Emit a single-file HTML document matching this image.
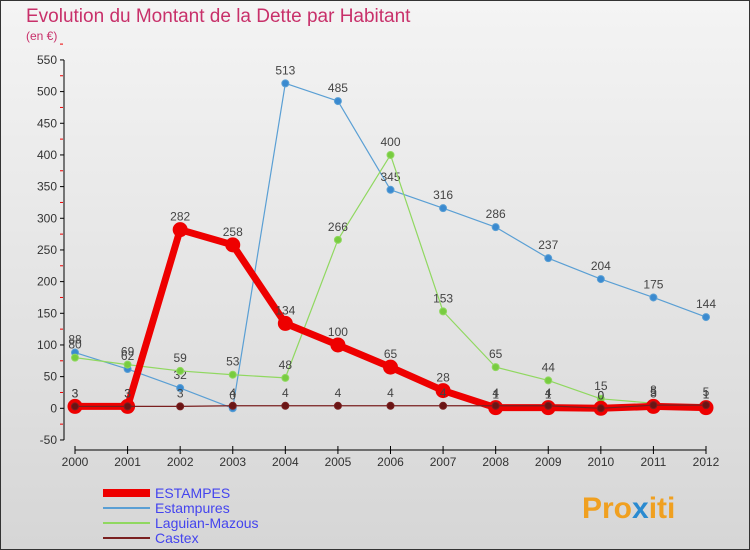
<!DOCTYPE html>
<html><head><meta charset="utf-8"><style>
body{margin:0;width:750px;height:550px;overflow:hidden;font-family:"Liberation Sans",sans-serif}
#wrap{position:absolute;left:0;top:0;width:748px;height:548px;border:1px solid #333;background:linear-gradient(#f4f4f4,#d6d6d6)}
</style></head><body>
<div id="wrap">
<svg id="svg" width="750" height="550" style="position:absolute;left:-1px;top:-1px">
<text x="26" y="22" font-size="19" fill="#c8306a">Evolution du Montant de la Dette par Habitant</text>
<text x="26" y="40" font-size="12" fill="#c8306a">(en €)</text>
<g id="axes"></g><g id="series"></g><g id="legend"></g>
<text x="582" y="518" font-size="30" font-weight="bold" fill="#f0a020">Pro<tspan fill="#2a8ad0">x</tspan>iti</text>
</svg></div>
<script>
const years=[2000,2001,2002,2003,2004,2005,2006,2007,2008,2009,2010,2011,2012];
const yTicks=[-50,0,50,100,150,200,250,300,350,400,450,500,550];
const estampesU=[3,3,282,258,134,100,65,28,1,1,0,3,1];
const estampures=[88,62,32,0,513,485,345,316,286,237,204,175,144];
const laguian=[80,69,59,53,48,266,400,153,65,44,15,8,1];
const castex=[3,3,3,4,4,4,4,4,4,4,0,5,5];
const names=["ESTAMPES","Estampures","Laguian-Mazous","Castex"];
const NS="http://www.w3.org/2000/svg";
function X(i){return 75+i*(706-75)/12;}
function Y(v){return 408.3-v*(31.67/50);}
function mk(t,a,p){const e=document.createElementNS(NS,t);for(const k in a)e.setAttribute(k,a[k]);(p||document.getElementById('series')).appendChild(e);return e;}
const ax=document.getElementById('axes');
let e=mk('line',{x1:64,y1:60,x2:64,y2:440,stroke:'#000'},ax);


e=mk('line',{x1:75,y1:450,x2:706,y2:450,stroke:'#000'},ax);


yTicks.forEach(v=>{mk('line',{x1:60,y1:Y(v),x2:64,y2:Y(v),stroke:'#000'},ax);
mk('line',{x1:60,y1:Y(v+25),x2:63,y2:Y(v+25),stroke:'#e00'},ax);
const t=mk('text',{x:57,y:Y(v)+4,'font-size':12,'text-anchor':'end',fill:'#333'},ax);t.textContent=v;

});
years.forEach((y,i)=>{mk('line',{x1:X(i),y1:446,x2:X(i),y2:454,stroke:'#000'},ax);
const t=mk('text',{x:X(i),y:466,'font-size':12,'text-anchor':'middle',fill:'#333'},ax);t.textContent=y;

});
function series(d,col,w,r,name,dot,lab){
const g=mk('g',{});


mk('polyline',{points:d.map((v,i)=>X(i)+','+Y(v)).join(' '),fill:'none',stroke:col,'stroke-width':w,'stroke-linejoin':'round'},g);
d.forEach((v,i)=>{const c=mk('circle',{cx:X(i),cy:Y(v),r:r,fill:dot,stroke:col,'stroke-width':1},g);


if(lab){const t=mk('text',{x:X(i),y:Y(v)-9,'font-size':12,'text-anchor':'middle',fill:'#444'},g);t.textContent=v;}});}
series(estampures,'#5a9fd4',1.2,3.5,'estampures','#3a8ad0',true);
series(laguian,'#90d860',1.2,3.5,'laguian-mazous','#78cc40',true);
series(estampesU,'#ee0000',7,7,'estampes','#ee0000',true);
series(castex,'#7a2020',1.2,3.5,'castex','#6a1515',true);
const cols=['#ee0000','#5a9fd4','#90d860','#7a2020'],ws=[8,2,2,2];
const lg=document.getElementById('legend');
names.forEach((n,i)=>{const y=493+i*15;
const l=mk('line',{x1:103,y1:y,x2:150,y2:y,stroke:cols[i],'stroke-width':ws[i]},lg);


const t=mk('text',{x:155,y:y+5,'font-size':14,fill:'#4444ee'},lg);t.textContent=n;

});
</script></body></html>
